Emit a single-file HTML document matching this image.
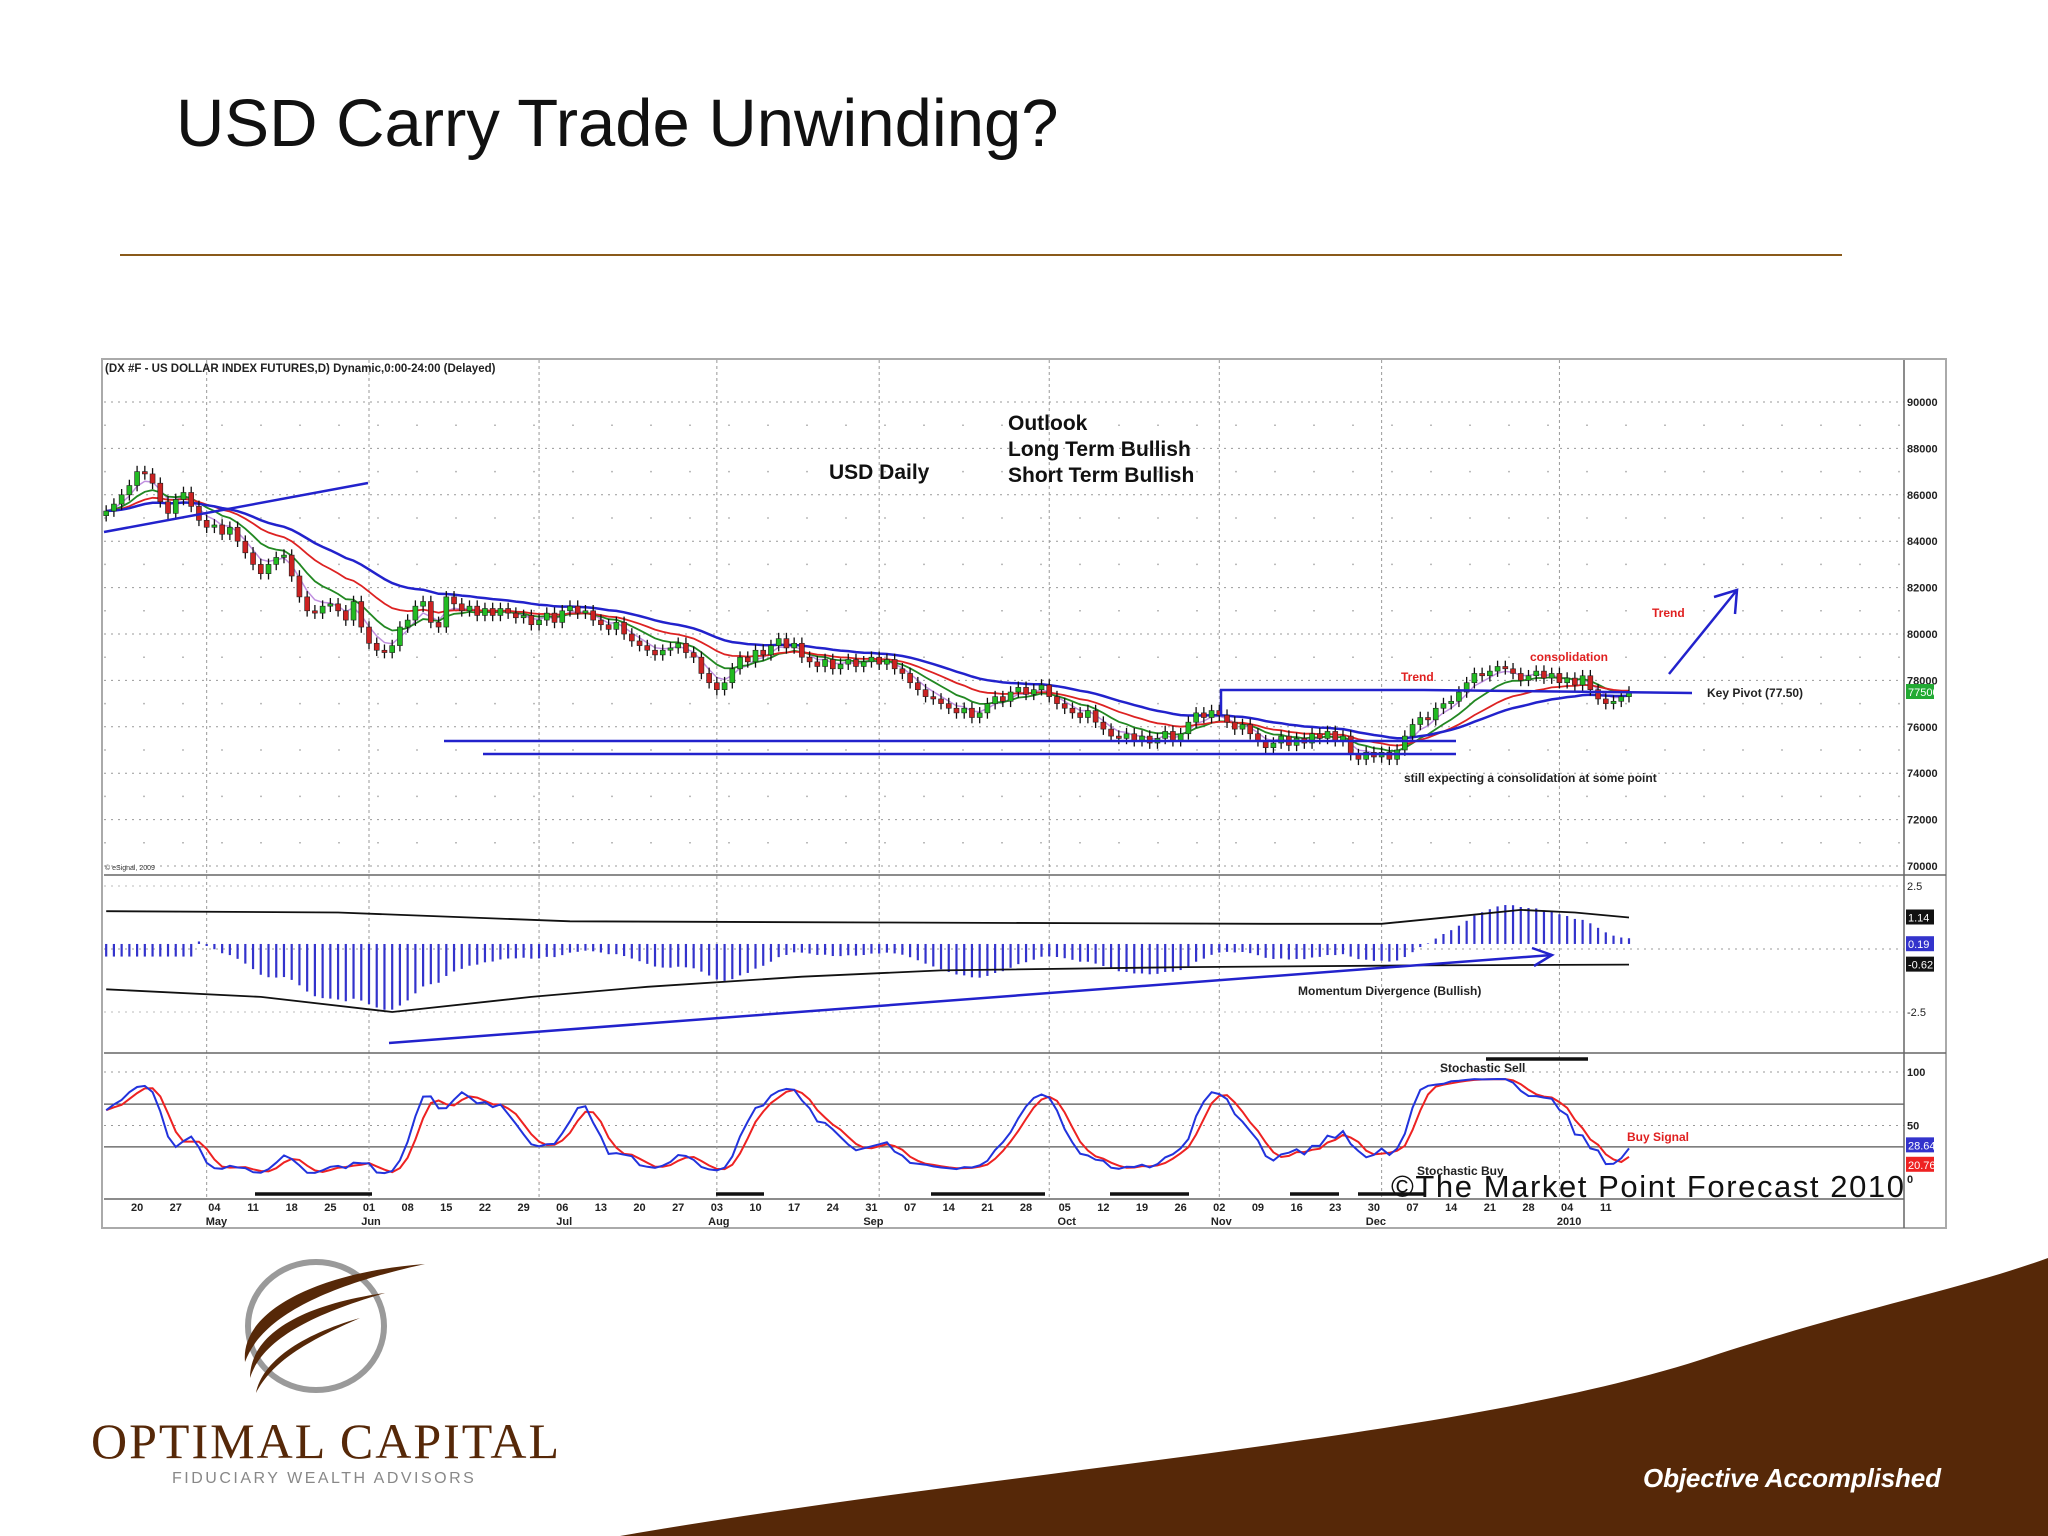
<!DOCTYPE html>
<html><head><meta charset="utf-8"><style>
html,body{margin:0;padding:0;background:#fff;}
svg{display:block;font-family:"Liberation Sans",sans-serif;}
</style></head><body>
<svg id="s" width="2048" height="1536" viewBox="0 0 2048 1536" xmlns="http://www.w3.org/2000/svg">
<text x="176" y="146" font-size="67" fill="#111">USD Carry Trade Unwinding?</text>
<line x1="120" y1="255" x2="1842" y2="255" stroke="#8a5a1a" stroke-width="2"/>
<rect x="102" y="359" width="1844" height="869" fill="#fff" stroke="#aaa" stroke-width="2"/>
<g id="grid"></g>
<g id="panels">
<line x1="104" y1="875" x2="1946" y2="875" stroke="#666" stroke-width="1.5"/>
<line x1="104" y1="1053" x2="1946" y2="1053" stroke="#666" stroke-width="1.5"/>
<line x1="104" y1="1199" x2="1904" y2="1199" stroke="#666" stroke-width="1.5"/>
<line x1="1904" y1="360" x2="1904" y2="1228" stroke="#666" stroke-width="1.5"/>
</g>
<text x="105" y="372" font-size="11.5" font-weight="bold" fill="#222">(DX #F - US DOLLAR INDEX FUTURES,D) Dynamic,0:00-24:00 (Delayed)</text>
<text x="105" y="870" font-size="7" fill="#333">© eSignal, 2009</text>
<g id="macdg"></g>
<g id="stochg"></g>
<g id="mas"></g>
<g id="candles"></g>
<g id="axes"></g>
<g font-weight="bold">
<line x1="104" y1="532" x2="368" y2="483" stroke="#2222cc" stroke-width="2.5"/>
<line x1="444" y1="741" x2="1456" y2="741" stroke="#2222cc" stroke-width="2.5"/>
<line x1="483" y1="754" x2="1456" y2="754" stroke="#2222cc" stroke-width="2.5"/>
<polyline points="1221,716 1221,690 1424,690" fill="none" stroke="#2222cc" stroke-width="2.5"/>
<line x1="1424" y1="690" x2="1692" y2="693" stroke="#2222cc" stroke-width="2.5"/>
<line x1="1669" y1="674" x2="1737" y2="590" stroke="#2222cc" stroke-width="2.5"/>
<polyline points="1714,597 1737,590 1735,614" fill="none" stroke="#2222cc" stroke-width="2.5"/>
<line x1="389" y1="1043" x2="1552" y2="955" stroke="#2222cc" stroke-width="2.5"/>
<polyline points="1532,948 1552,955 1534,966" fill="none" stroke="#2222cc" stroke-width="2.5"/>
<text x="829" y="479" font-size="21" fill="#111">USD Daily</text>
<text x="1008" y="430" font-size="21" fill="#111">Outlook</text>
<text x="1008" y="456" font-size="21" fill="#111">Long Term Bullish</text>
<text x="1008" y="482" font-size="21" fill="#111">Short Term Bullish</text>
<text x="1652" y="617" font-size="12" fill="#e02020">Trend</text>
<text x="1530" y="661" font-size="12" fill="#e02020">consolidation</text>
<text x="1401" y="681" font-size="12" fill="#e02020">Trend</text>
<text x="1707" y="697" font-size="12" fill="#222">Key Pivot (77.50)</text>
<text x="1404" y="782" font-size="12" fill="#222">still expecting a consolidation at some point</text>
<text x="1298" y="995" font-size="12" fill="#222">Momentum Divergence (Bullish)</text>
<text x="1440" y="1072" font-size="12" fill="#222">Stochastic Sell</text>
<text x="1417" y="1175" font-size="12" fill="#222">Stochastic Buy</text>
<text x="1627" y="1141" font-size="12" fill="#e02020">Buy Signal</text>
<text x="1391" y="1197" font-size="31" font-weight="normal" fill="#111" textLength="513">©The Market Point Forecast 2010</text>
</g>
<path d="M620 1536 C 1000 1470, 1450 1440, 1700 1360 C 1850 1310, 1960 1290, 2048 1258 L2048 1536 Z" fill="#562808"/>
<text x="1643" y="1487" font-size="26" font-style="italic" font-weight="bold" fill="#fff" font-family="Liberation Sans Narrow, Liberation Sans, sans-serif" textLength="298">Objective Accomplished</text>
<g>
<ellipse cx="316" cy="1326" rx="68" ry="64" fill="none" stroke="#9a9a9a" stroke-width="6"/>
<path d="M245 1362 C 240 1310, 320 1272, 425 1264 C 330 1285, 262 1315, 245 1362 Z" fill="#562808"/>
<path d="M250 1378 C 250 1335, 300 1305, 385 1293 C 310 1315, 262 1340, 250 1378 Z" fill="#562808"/>
<path d="M256 1393 C 262 1362, 300 1335, 360 1318 C 305 1342, 272 1362, 256 1393 Z" fill="#562808"/>
<text x="91" y="1458" font-size="50" fill="#562808" font-family="Liberation Serif, serif" textLength="468">OPTIMAL CAPITAL</text>
<text x="172" y="1483" font-size="16" fill="#888" letter-spacing="2.5">FIDUCIARY WEALTH ADVISORS</text>
</g>
</svg>
<script>
const dateLabels=["20","27","04","11","18","25","01","08","15","22","29","06","13","20","27","03","10","17","24","31","07","14","21","28","05","12","19","26","02","09","16","23","30","07","14","21","28","04","11"];
const monthLabels=["May","Jun","Jul","Aug","Sep","Oct","Nov","Dec","2010"];
const monthWeek=[2,6,11,15,19,24,28,32,37];
const monthLineIdx=[13,34,56,79,100,122,144,165,188];
const priceTicks=[90,88,86,84,82,80,78,76,74,72,70];
const closes=[85.3,85.6,86.0,86.4,
87.0,86.9,86.5,85.7,85.2, 85.8,86.1,85.5,84.9,84.6, 84.7,84.3,84.6,84.0,83.5, 83.0,82.6,83.0,83.3,83.4,
82.5,81.6,81.0,80.9,81.2, 81.3,81.0,80.6,81.4,80.3, 79.6,79.3,79.2,79.5,80.3, 80.6,81.2,81.4,80.5,80.3,
81.6,81.3,81.0,81.2,80.8, 81.1,80.8,81.1,80.9,80.7, 80.8,80.4,80.6,80.9,80.5, 81.0,81.2,80.9,81.0,80.6,
80.4,80.2,80.5,80.0,79.7, 79.5,79.3,79.1,79.3,79.4, 79.6,79.2,79.0,78.3,77.9, 77.6,77.9,78.5,79.0,78.8,
79.3,79.1,79.5,79.8,79.4, 79.6,79.0,78.8,78.6,78.9, 78.5,78.7,78.9,78.6,78.8, 79.0,78.7,78.9,78.5,78.3,
77.9,77.6,77.3,77.2,77.0, 76.8,76.6,76.8,76.4,76.6, 77.0,77.3,77.1,77.5,77.7, 77.4,77.6,77.8,77.3,77.0,
76.8,76.6,76.4,76.7,76.2, 75.9,75.6,75.5,75.7,75.4, 75.6,75.3,75.5,75.8,75.4, 75.7,76.2,76.6,76.4,76.7,
76.5,76.2,75.9,76.1,75.7, 75.4,75.1,75.3,75.6,75.2, 75.5,75.3,75.7,75.5,75.8, 75.4,75.6,74.8,74.6,74.9,
74.7,74.9,74.6,75.0,75.6, 76.1,76.4,76.3,76.8,77.0, 77.1,77.5,77.9,78.3,78.2, 78.4,78.6,78.5,78.3,78.0,
78.2,78.4,78.1,78.3,77.9, 78.1,77.8,78.2,77.6,77.2, 77.0,77.1,77.3,77.5];
const sigUpperIdx=[0,30,60,100,150,165,175,183,190,197];
const sigUpperVal=[1.5,1.45,1.1,1.05,1.0,1.0,1.3,1.55,1.45,1.25];
const sigLowerIdx=[0,20,37,55,70,90,108,140,170,197];
const sigLowerVal=[-1.6,-1.9,-2.5,-1.9,-1.5,-1.1,-0.85,-0.72,-0.65,-0.62];
const macdTicks=[2.5,-2.5];
const stochTicks=[100,50,0];

const NS="http://www.w3.org/2000/svg";
function mk(tag,attrs,parent){const e=document.createElementNS(NS,tag);for(const k in attrs)e.setAttribute(k,attrs[k]);parent.appendChild(e);return e;}
const xOf=i=>137.1+(i-4)*7.73;
const yP=p=>402+(90-p)*23.2;
const yM=v=>949-v*25.2;
const yS=v=>1179-v*1.07;
const G=id=>document.getElementById(id);
const n=closes.length;
const opens=closes.map((c,i)=>i?closes[i-1]:c-0.2);
const highs=closes.map((c,i)=>Math.max(c,opens[i])+0.25);
const lows=closes.map((c,i)=>Math.min(c,opens[i])-0.25);

const grid=G('grid');
priceTicks.forEach(p=>{const l=mk('line',{x1:104,x2:1904,y1:yP(p),y2:yP(p),stroke:'#999','stroke-dasharray':'2,5','stroke-width':1},grid);

});
priceTicks.slice(0,-1).forEach(p=>{mk('line',{x1:104,x2:1904,y1:yP(p-1),y2:yP(p-1),stroke:'#bbb','stroke-dasharray':'2,37','stroke-width':1.5},grid);});
[[yM(0)],[yS(50)],[yS(100)]].forEach(a=>{mk('line',{x1:104,x2:1904,y1:a[0],y2:a[0],stroke:'#999','stroke-dasharray':'2,5'},grid);});
mk('line',{x1:104,x2:1904,y1:yM(2.5),y2:yM(2.5),stroke:'#bbb','stroke-dasharray':'2,5'},grid);
mk('line',{x1:104,x2:1904,y1:yM(-2.5),y2:yM(-2.5),stroke:'#bbb','stroke-dasharray':'2,5'},grid);
[70,30].forEach(v=>{const l=mk('line',{x1:104,x2:1904,y1:yS(v),y2:yS(v),stroke:'#555','stroke-width':1.2},grid);

});
monthLineIdx.forEach(i=>{const l=mk('line',{x1:xOf(i),x2:xOf(i),y1:360,y2:1199,stroke:'#999','stroke-dasharray':'3,3'},grid);

});

const ax=G('axes');
priceTicks.forEach(p=>{const t=mk('text',{x:1907,y:yP(p)+4,'font-size':11,'font-weight':'bold',fill:'#222'},ax);t.textContent=String(p*1000);

});
macdTicks.forEach(v=>{const t=mk('text',{x:1907,y:yM(v)+4,'font-size':11,fill:'#222'},ax);t.textContent=String(v);

});
stochTicks.forEach(v=>{const t=mk('text',{x:1907,y:yS(v)+4,'font-size':11,'font-weight':'bold',fill:'#222'},ax);t.textContent=String(v);

});
dateLabels.forEach((d,k)=>{const t=mk('text',{x:xOf(4+5*k),y:1211,'font-size':11,'font-weight':'bold',fill:'#222','text-anchor':'middle'},ax);t.textContent=d;

});
monthLabels.forEach((m,j)=>{const t=mk('text',{x:xOf(4+5*monthWeek[j])+2,y:1225,'font-size':11,'font-weight':'bold',fill:'#222','text-anchor':'middle'},ax);t.textContent=m;

});
function box(y,txt,bg){mk('rect',{x:1906,y:y-8,width:28,height:15,fill:bg},ax);const t=mk('text',{x:1908,y:y+4,'font-size':11,fill:'#fff'},ax);t.textContent=txt;

}
const last=closes[n-1];
box(yP(last),(last*1000).toFixed(0),'#22aa33');
box(yM(sigUpperVal[sigUpperVal.length-1]),'1.14','#111');
box(yM(0.19),'0.19','#3333cc');
box(yM(sigLowerVal[sigLowerVal.length-1]),'-0.62','#111');

function ema(arr,p){const k=2/(p+1);let out=[],v=arr[0];arr.forEach((c,i)=>{v=i?c*k+v*(1-k):c;out.push(v);});return out;}
function poly(vals,yf,color,w,name){const pts=vals.map((v,i)=>xOf(i).toFixed(1)+','+yf(v).toFixed(1)).join(' ');
const l=mk('polyline',{points:pts,fill:'none',stroke:color,'stroke-width':w},G('mas'));

}
poly(ema(closes,4),yP,'#c090e0',1.5,'ma-fast');
poly(ema(closes,9),yP,'#228822',1.8,'ma-10');
poly(ema(closes,18),yP,'#dd2222',1.8,'ma-20');
poly(ema(closes,32),yP,'#2222cc',2.5,'ma-40');

const cg=G('candles');
closes.forEach((c,i)=>{const x=xOf(i),o=opens[i];
const w=mk('line',{x1:x,x2:x,y1:yP(highs[i]),y2:yP(lows[i]),stroke:'#111','stroke-width':1.3},cg);


const top=yP(Math.max(o,c)),h=Math.max(2,yP(Math.min(o,c))-top);
const r=mk('rect',{x:x-2.5,y:top,width:5,height:h,fill:c>=o?'#22bb22':'#cc2222',stroke:'#222','stroke-width':0.6},cg);

});

const mg=G('macdg');
const e12=ema(closes,12),e26=ema(closes,26);
closes.forEach((c,i)=>{let v=(e12[i]-e26[i])*2;if(i<12)v=-0.5;const y0=yM(0.2),y1=yM(v+0.2);
const l=mk('line',{x1:xOf(i),x2:xOf(i),y1:y0,y2:y1,stroke:'#3333cc','stroke-width':2.2},mg);

});
function sigLine(idx,val,name){const pts=idx.map((i,j)=>xOf(i).toFixed(1)+','+yM(val[j]).toFixed(1)).join(' ');
const l=mk('polyline',{points:pts,fill:'none',stroke:'#111','stroke-width':1.8},mg);

}
sigLine(sigUpperIdx,sigUpperVal,'macd-upper-line');
sigLine(sigLowerIdx,sigLowerVal,'macd-lower-line');

const sg=G('stochg');
let rawK=closes.map((c,i)=>{const s=Math.max(0,i-13);const hh=Math.max(...highs.slice(s,i+1)),ll=Math.min(...lows.slice(s,i+1));return hh>ll?(c-ll)/(hh-ll)*100:50;});
const sma=(a,p)=>a.map((v,i)=>{const s=Math.max(0,i-p+1);const sl=a.slice(s,i+1);return sl.reduce((x,y)=>x+y,0)/sl.length;});
const K=sma(rawK,3),D=sma(K,3);
[[D,'#ee2222','stochastic-d'],[K,'#2233dd','stochastic-k']].forEach(([arr,col,name])=>{const pts=arr.map((v,i)=>xOf(i).toFixed(1)+','+yS(v).toFixed(1)).join(' ');
const l=mk('polyline',{points:pts,fill:'none',stroke:col,'stroke-width':2},sg);

});
box(yS(K[n-1])-3,K[n-1].toFixed(2),'#3333cc');
box(yS(D[n-1])+8,D[n-1].toFixed(2),'#ee2222');
[[255,372],[716,764],[931,1045],[1110,1189],[1290,1339],[1358,1424]].forEach(([a,b])=>{const l=mk('line',{x1:a,x2:b,y1:1194,y2:1194,stroke:'#111','stroke-width':3.5},sg);

});
const sb=mk('line',{x1:1486,x2:1588,y1:1059,y2:1059,stroke:'#111','stroke-width':3.5},sg);


</script>
</body></html>
